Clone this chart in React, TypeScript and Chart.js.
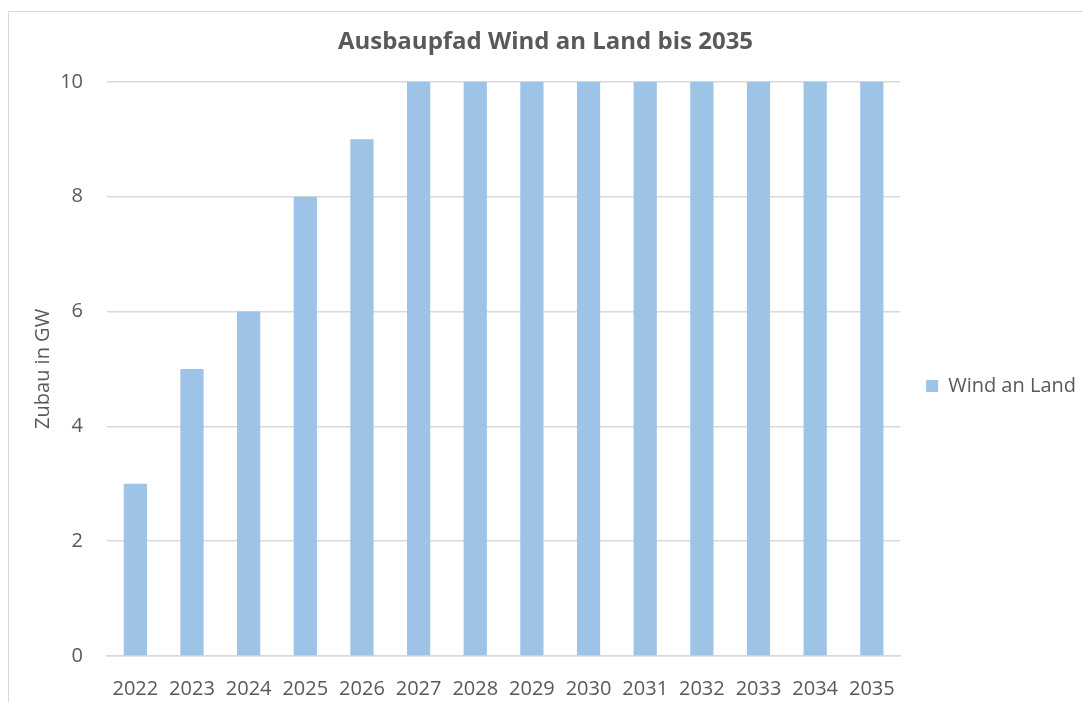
import React, { useEffect, useRef } from "react";
import { Chart, registerables } from "chart.js";

Chart.register(...registerables);

const categories = ["2022", "2023", "2024", "2025", "2026", "2027", "2028", "2029", "2030", "2031", "2032", "2033", "2034", "2035"];
const windAnLand = [3, 5, 6, 8, 9, 10, 10, 10, 10, 10, 10, 10, 10, 10];
const seriesLabel = "Wind an Land";
const chartTitle = "Ausbaupfad Wind an Land bis 2035";
const yAxisTitle = "Zubau in GW";

const FONT = "'Open Sans', 'Liberation Sans', sans-serif";
const TEXT = "#595959";

export default function App() {
  const ref = useRef<HTMLCanvasElement | null>(null);
  useEffect(() => {
    if (!ref.current) return;
    const chart = new Chart(ref.current, {
      type: "bar",
      data: {
        labels: categories,
        datasets: [
          {
            label: seriesLabel,
            data: windAnLand,
            backgroundColor: "#9DC3E6",
            borderWidth: 0,
            categoryPercentage: 1,
            barPercentage: 0.41,
          },
        ],
      },
      options: {
        animation: false,
        responsive: false,
        layout: { padding: { left: 5, right: -3, top: 0, bottom: 0 } },
        plugins: {
          title: {
            display: true,
            text: chartTitle,
            color: TEXT,
            font: { family: FONT, size: 24, weight: "bold" },
            padding: { top: 28, bottom: 25 },
          },
          legend: {
            display: true,
            position: "right",
            title: {
              display: true,
              text: "",
              font: { family: FONT, size: 10 },
              padding: { top: 0, bottom: 58 },
            },
            labels: {
              color: TEXT,
              font: { family: FONT, size: 20 },
              boxWidth: 12,
              boxHeight: 12,
              padding: 26,
            },
          },
          tooltip: { enabled: false },
        },
        scales: {
          x: {
            grid: { display: false },
            border: { display: true, color: "#D9D9D9", width: 1.5 },
            ticks: { color: TEXT, font: { family: FONT, size: 20 }, padding: 13, maxRotation: 0 },
            afterFit: (s: any) => {
              s.height = 46;
            },
          },
          y: {
            min: 0,
            max: 10,
            ticks: { stepSize: 2, color: TEXT, font: { family: FONT, size: 20 }, padding: 24 },
            grid: { color: "#D9D9D9", lineWidth: 1.5, drawTicks: false },
            border: { display: false },
            title: {
              display: true,
              text: yAxisTitle,
              color: TEXT,
              font: { family: FONT, size: 20 },
              padding: { top: 26, bottom: 0 },
            },
            afterFit: (s: any) => {
              s.width = 102;
            },
          },
        },
      },
    });
    return () => chart.destroy();
  }, []);
  return (
    <div style={{ position: "fixed", left: 0, top: 0, width: 1083, height: 702, background: "#fff", overflow: "hidden" }}>
      <div
        style={{
          position: "absolute",
          left: 8,
          top: 11,
          width: 1200,
          height: 800,
          borderTop: "1.5px solid #D9D9D9",
          borderLeft: "1.5px solid #D9D9D9",
        }}
      />
      <canvas ref={ref} width={1083} height={702} style={{ position: "absolute", left: 0, top: 0, width: 1083, height: 702 }} />
    </div>
  );
}
